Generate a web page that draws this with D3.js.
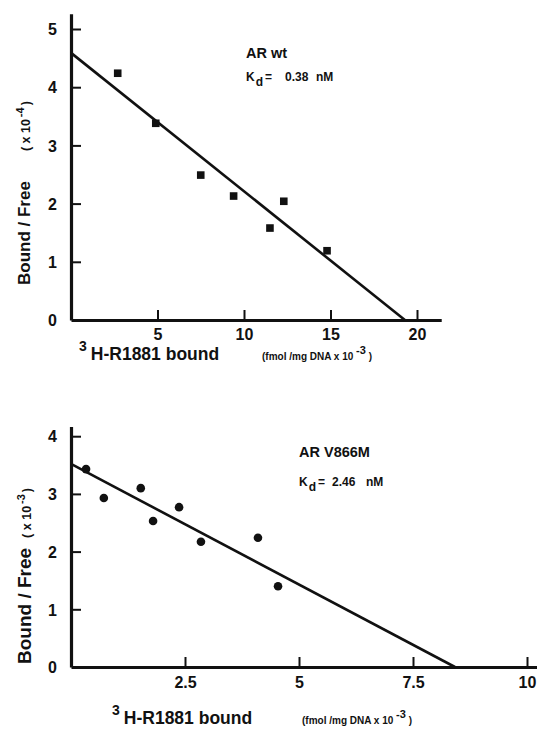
<!DOCTYPE html>
<html>
<head>
<meta charset="utf-8">
<script src="https://cdn.jsdelivr.net/npm/d3@7"></script>
<style>
  html, body { margin: 0; padding: 0; background: #fff; }
  svg { display: block; }
  text { font-family: "Liberation Sans", Arial, Helvetica, sans-serif; font-weight: bold; fill: #111; white-space: pre; }
</style>
</head>
<body>
<svg id="chart" width="537" height="731"></svg>
<script>
// ---- Data: AR wild type (top panel) ----
const wtBound = [2.7, 4.9, 7.5, 9.4, 11.5, 12.3, 14.8];          // fmol/mg DNA x 10^-3
const wtRatio = [4.24, 3.38, 2.49, 2.13, 1.58, 2.04, 1.19];      // Bound/Free x 10^-4
const wtFitX = [0, 19.3];
const wtFitY = [4.59, 0];
const wtXTicks = [5, 10, 15, 20];
const wtYTicks = [0, 1, 2, 3, 4, 5];

// ---- Data: AR V866M (bottom panel) ----
const mutBound = [0.33, 0.72, 1.53, 1.8, 2.37, 2.85, 4.1, 4.54];
const mutRatio = [3.43, 2.93, 3.10, 2.53, 2.77, 2.17, 2.24, 1.40]; // Bound/Free x 10^-3
const mutFitX = [0, 8.42];
const mutFitY = [3.52, 0];
const mutXTicks = [2.5, 5, 7.5, 10];
const mutXTickLabels = ["2.5", "5", "7.5", "10"];
const mutYTicks = [0, 1, 2, 3, 4];

const svg = d3.select("#chart");

function panel(cfg) {
  const g = svg.append("g");
  const x = d3.scaleLinear().domain(cfg.xDomain).range(cfg.xRange);
  const y = d3.scaleLinear().domain(cfg.yDomain).range(cfg.yRange);

  const xAxis = d3.axisBottom(x).tickValues(cfg.xTicks).tickSizeInner(-cfg.tickLen).tickSizeOuter(0)
    .tickFormat((d, i) => cfg.xTickLabels ? cfg.xTickLabels[i] : d3.format("d")(d));
  const yAxis = d3.axisLeft(y).tickValues(cfg.yTicks).tickSizeInner(-cfg.tickLen).tickSizeOuter(0)
    .tickFormat(d3.format("d"));

  const gx = g.append("g").attr("transform", `translate(0,${y(0)})`).call(xAxis);
  const gy = g.append("g").attr("transform", `translate(${x(0)},0)`).call(yAxis);

  [gx, gy].forEach(a => {
    a.select(".domain").attr("stroke", "#111").attr("stroke-width", 3.2);
    a.selectAll(".tick line").attr("stroke", "#111").attr("stroke-width", 2);
    a.selectAll(".tick text").attr("font-size", 16).attr("font-family", "Liberation Sans, Arial, sans-serif")
      .attr("font-weight", "bold").attr("fill", "#111");
  });
  gx.selectAll(".tick text").attr("y", cfg.xLabelOffset).attr("dy", 0).attr("text-anchor", "middle");
  gy.selectAll(".tick text").attr("x", -14).attr("dy", "0.36em");
  gy.selectAll(".tick").filter(d => d === 0).select("line").remove();

  // fit line
  const fit = cfg.fitX.map((v, i) => [v, cfg.fitY[i]]);
  g.append("path")
    .datum(fit)
    .attr("d", d3.line().x(d => x(d[0])).y(d => y(d[1])))
    .attr("fill", "none").attr("stroke", "#111").attr("stroke-width", 2.6);

  // points
  const pts = cfg.px.map((v, i) => [v, cfg.py[i]]);
  if (cfg.marker === "square") {
    g.selectAll("rect.pt").data(pts).enter().append("rect")
      .attr("x", d => x(d[0]) - 3.8).attr("y", d => y(d[1]) - 3.8)
      .attr("width", 7.6).attr("height", 7.6).attr("fill", "#111");
  } else {
    g.selectAll("circle.pt").data(pts).enter().append("circle")
      .attr("cx", d => x(d[0])).attr("cy", d => y(d[1])).attr("r", 4.3).attr("fill", "#111");
  }

  // title and Kd
  g.append("text").attr("x", cfg.titleX).attr("y", cfg.titleY).attr("font-size", 14.5).text(cfg.title);
  const kd = g.append("text").attr("x", cfg.titleX).attr("y", cfg.kdY).attr("font-size", 12);
  kd.append("tspan").text("K");
  kd.append("tspan").attr("dy", 5).attr("dx", 1).attr("font-size", 12).text("d");
  kd.append("tspan").attr("dy", -5).attr("x", cfg.eqX).text("=");
  kd.append("tspan").attr("x", cfg.valX).text(cfg.kdVal);
  kd.append("tspan").attr("x", cfg.unitX).text("nM");

  // y-axis label (rotated)
  const yl = g.append("text")
    .attr("transform", `translate(${cfg.yTitleX},${cfg.yTitleY}) rotate(-90)`)
    .attr("font-size", cfg.yTitleSize);
  yl.append("tspan").text("Bound / Free");
  yl.append("tspan").attr("font-size", 12.5).attr("dx", cfg.yUnitGap).text("( x 10");
  yl.append("tspan").attr("font-size", 11).attr("dy", -6).attr("dx", 2).text(cfg.yExp);
  yl.append("tspan").attr("font-size", 12.5).attr("dy", 6).attr("dx", 2).text(")");

  // x-axis label
  const xl = g.append("text").attr("x", cfg.xTitleX).attr("y", cfg.xTitleY).attr("font-size", 17.5);
  xl.append("tspan").attr("font-size", 14).attr("dy", -9).text("3");
  xl.append("tspan").attr("dy", 9).attr("dx", 4).text("H-R1881 bound");
  const xu = g.append("text").attr("x", cfg.xUnitX).attr("y", cfg.xTitleY).attr("font-size", 10);
  xu.append("tspan").text("(fmol /mg DNA x 10 ");
  xu.append("tspan").attr("dy", -6).attr("font-size", 11).text("-3");
  xu.append("tspan").attr("dy", 6).text(" )");
}

panel({
  xDomain: [0, 21.4], xRange: [71, 71 + 21.4 * 17.3],
  yDomain: [0, 5.26], yRange: [320, 320 - 5.26 * 58.2],
  xTicks: wtXTicks, yTicks: wtYTicks, tickLen: 10, xLabelOffset: 20,
  fitX: wtFitX, fitY: wtFitY, px: wtBound, py: wtRatio, marker: "square",
  title: "AR wt", titleX: 246, titleY: 58, kdY: 81, eqX: 265, valX: 285, unitX: 316, kdVal: "0.38",
  yTitleX: 30, yTitleY: 285, yTitleSize: 17, yUnitGap: 30, yExp: "-4",
  xTitleX: 79, xTitleY: 360, xUnitX: 262
});

panel({
  xDomain: [0, 10.25], xRange: [71, 71 + 10.25 * 45.6],
  yDomain: [0, 4.17], yRange: [667, 667 - 4.17 * 57.7],
  xTicks: mutXTicks, xTickLabels: mutXTickLabels, yTicks: mutYTicks, tickLen: 10, xLabelOffset: 21,
  fitX: mutFitX, fitY: mutFitY, px: mutBound, py: mutRatio, marker: "circle",
  title: "AR V866M", titleX: 299, titleY: 457, kdY: 486, eqX: 318, valX: 332, unitX: 366, kdVal: "2.46",
  yTitleX: 31, yTitleY: 664, yTitleSize: 19, yUnitGap: 10, yExp: "-3",
  xTitleX: 112, xTitleY: 724, xUnitX: 302
});
</script>
</body>
</html>
